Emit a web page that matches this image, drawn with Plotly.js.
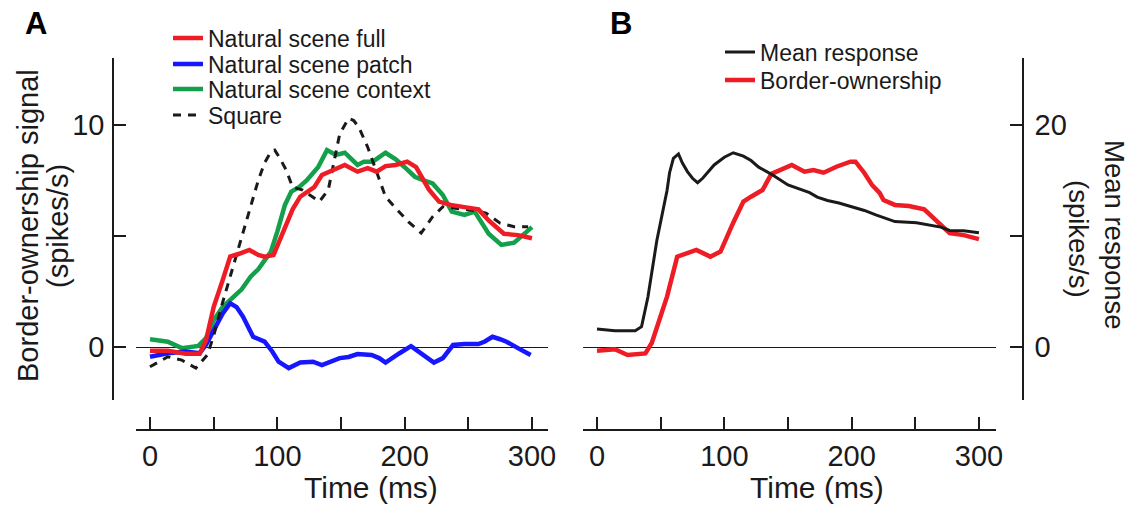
<!DOCTYPE html>
<html>
<head>
<meta charset="utf-8">
<script src="https://cdn.plot.ly/plotly-3.0.1.min.js"></script>
<style>
html,body{margin:0;padding:0;background:#fff;}
#chart{width:1136px;height:505px;}
</style>
</head>
<body>
<div id="chart"></div>
<script>
// ---------- Data ----------
// Panel A: border-ownership signal (spikes/s) vs time (ms)
const fullTime = [0, 14, 28, 39, 44, 50, 57, 63, 70, 78, 85, 90, 97, 107, 112, 118, 124, 129, 135, 143, 153, 163, 171, 178, 185, 193, 202, 209, 219, 227, 236, 247, 258, 266, 278, 289, 300];
const fullVals = [-0.17, -0.17, -0.3, -0.3, 0.3, 1.8, 3.0, 4.07, 4.2, 4.37, 4.15, 4.07, 4.14, 5.6, 6.2, 6.77, 7.0, 7.2, 7.75, 7.97, 8.2, 7.9, 8.06, 7.9, 8.15, 8.2, 8.35, 8.1, 7.1, 6.55, 6.4, 6.3, 6.2, 5.7, 5.1, 5.04, 4.9];

const patchTime = [0, 14, 28, 39, 44, 50, 57, 63, 68, 73, 81, 90, 96, 101, 109, 118, 128, 135, 142, 149, 156, 163, 174, 180, 185, 191, 196, 205, 213, 218, 223, 230, 238, 247, 258, 263, 269, 275, 280, 289, 299];
const patchVals = [-0.44, -0.28, -0.2, -0.28, 0.1, 0.77, 1.5, 1.97, 1.8, 1.37, 0.46, 0.24, -0.2, -0.66, -0.95, -0.7, -0.66, -0.81, -0.65, -0.5, -0.45, -0.32, -0.36, -0.5, -0.7, -0.5, -0.28, 0.04, -0.28, -0.5, -0.7, -0.5, 0.09, 0.13, 0.13, 0.25, 0.46, 0.35, 0.24, -0.05, -0.36];

const contextTime = [0, 14, 25, 38, 44, 50, 57, 65, 72, 79, 85, 90, 95, 100, 106, 111, 117, 123, 132, 139, 146, 153, 163, 168, 175, 185, 193, 200, 208, 215, 222, 230, 237, 247, 255, 266, 276, 286, 300];
const contextVals = [0.35, 0.24, -0.05, 0.05, 0.4, 1.2, 1.8, 2.2, 2.6, 3.17, 3.5, 3.9, 4.3, 5.2, 6.4, 7.0, 7.2, 7.5, 8.1, 8.87, 8.65, 8.75, 8.2, 8.35, 8.35, 8.75, 8.45, 8.1, 7.67, 7.5, 7.37, 6.85, 6.1, 5.95, 6.1, 5.1, 4.6, 4.7, 5.4];

const squareTime = [0, 14, 25, 36, 45, 50, 56, 65, 72, 79, 85, 90, 95, 98, 102, 107, 112, 120, 127, 133, 140, 145, 149, 153, 156, 160, 164, 171, 180, 185, 193, 203, 213, 222, 230, 241, 252, 264, 275, 286, 297];
const squareVals = [-0.89, -0.44, -0.59, -0.95, -0.36, 0.5, 1.8, 3.6, 5.0, 6.3, 7.5, 8.3, 8.8, 8.87, 8.5, 7.97, 7.2, 7.07, 6.8, 6.55, 7.07, 8.5, 9.6, 10.0, 10.3, 10.2, 9.9, 9.0, 7.5, 6.77, 6.25, 5.64, 5.13, 5.87, 6.32, 6.25, 6.17, 6.03, 5.58, 5.42, 5.42];

// Panel B
const meanTime = [0, 14, 30, 35, 40, 47, 55, 57, 60, 64, 67, 71, 75, 79, 83, 88, 92, 100, 107, 115, 121, 127, 138, 150, 160, 167, 173, 181, 190, 202, 210, 219, 234, 251, 260, 270, 277, 288, 300];
const meanVals = [1.62, 1.47, 1.47, 1.83, 4.5, 9.6, 14.1, 15.7, 17.0, 17.4, 16.6, 15.8, 15.2, 14.8, 15.2, 15.9, 16.4, 17.1, 17.5, 17.2, 16.8, 16.2, 15.5, 14.6, 14.2, 13.9, 13.5, 13.2, 12.97, 12.6, 12.3, 11.9, 11.3, 11.2, 11.0, 10.8, 10.5, 10.48, 10.3];

const bosTime = [0, 14, 24, 38, 43, 49, 55, 63, 70, 78, 89, 97, 107, 115, 121, 130, 137, 145, 153, 163, 170, 178, 188, 199, 203, 210, 216, 222, 225, 234, 245, 257, 268, 277, 288, 300];
const bosVals = [-0.17, -0.1, -0.36, -0.29, 0.18, 1.2, 2.27, 4.07, 4.2, 4.37, 4.07, 4.3, 5.6, 6.55, 6.77, 7.07, 7.8, 8.0, 8.2, 7.9, 7.97, 7.85, 8.12, 8.35, 8.35, 7.84, 7.3, 6.94, 6.62, 6.4, 6.35, 6.2, 5.58, 5.13, 5.04, 4.86];

// Tick labels
const xTickVals = [0, 50, 100, 150, 200, 250, 300];
const xTickText = ['0', '', '100', '', '200', '', '300'];
const yTickValsA = [0, 5, 10];
const yTickTextA = ['0', '', '10'];
const yTickValsB = [0, 10, 20];
const yTickTextB = ['0', '', '20'];

// ---------- Layout helpers ----------
const W = 1136, H = 505;
const fx = p => p / W;
const fy = p => 1 - p / H;
const FONT = 'Liberation Sans, Arial, Helvetica, sans-serif';
const INK = '#1a1a1a';
const RED = '#ee1c25', BLUE = '#1616ff', GREEN = '#14a04a';

const traces = [
  {x: contextTime, y: contextVals, name: 'Natural scene context', xaxis: 'x', yaxis: 'y', mode: 'lines',
   line: {color: GREEN, width: 4.5}, legend: 'legend3'},
  {x: patchTime, y: patchVals, name: 'Natural scene patch', xaxis: 'x', yaxis: 'y', mode: 'lines',
   line: {color: BLUE, width: 4.5}, legend: 'legend2'},
  {x: squareTime, y: squareVals, name: 'Square', xaxis: 'x', yaxis: 'y', mode: 'lines',
   line: {color: INK, width: 3, dash: '8px,7px'}, legend: 'legend4'},
  {x: fullTime, y: fullVals, name: 'Natural scene full', xaxis: 'x', yaxis: 'y', mode: 'lines',
   line: {color: RED, width: 4.5}, legend: 'legend'},
  {x: bosTime, y: bosVals, name: 'Border-ownership', xaxis: 'x2', yaxis: 'y2', mode: 'lines',
   line: {color: RED, width: 4.5}, legend: 'legend6'},
  {x: meanTime, y: meanVals, name: 'Mean response', xaxis: 'x2', yaxis: 'y3', mode: 'lines',
   line: {color: INK, width: 3}, legend: 'legend5'}
];

const xCommon = {
  anchor: 'free', position: fy(430),
  showline: true, linecolor: INK, linewidth: 1.5,
  ticks: 'inside', ticklen: 12, tickwidth: 1.5, tickcolor: INK,
  tickmode: 'array', tickvals: xTickVals, ticktext: xTickText,
  tickfont: {family: FONT, size: 29, color: INK},
  showgrid: false, zeroline: false, automargin: false, fixedrange: true
};
const yDomain = [fy(400), fy(58)];
const yRangeA = [-2.387, 13.018];

function legendAt(xp, yp) {
  return {x: fx(xp), y: fy(yp), xanchor: 'left', yanchor: 'middle',
          bgcolor: 'rgba(0,0,0,0)', borderwidth: 0,
          font: {family: FONT, size: 23, color: INK}};
}

const layout = {
  width: W, height: H,
  margin: {l: 0, r: 0, t: 0, b: 0},
  paper_bgcolor: '#fff', plot_bgcolor: 'rgba(0,0,0,0)',
  font: {family: FONT, color: INK},
  showlegend: true,
  xaxis: Object.assign({}, xCommon, {domain: [fx(136), fx(548)], range: [-11.0, 312.6]}),
  xaxis2: Object.assign({}, xCommon, {domain: [fx(583), fx(996)], range: [-11.0, 313.4]}),
  yaxis: {
    domain: yDomain, range: yRangeA, anchor: 'free', position: fx(113),
    showline: true, linecolor: INK, linewidth: 1.5,
    ticks: 'inside', ticklen: 12, tickwidth: 1.5, tickcolor: INK,
    tickmode: 'array', tickvals: yTickValsA, ticktext: yTickTextA,
    tickfont: {family: FONT, size: 29, color: INK}, ticklabelstandoff: 2,
    showgrid: false, zeroline: true, zerolinecolor: INK, zerolinewidth: 1.3,
    automargin: false, fixedrange: true
  },
  yaxis2: {
    domain: yDomain, range: yRangeA, anchor: 'x2',
    showline: false, showticklabels: false, ticks: '',
    showgrid: false, zeroline: true, zerolinecolor: INK, zerolinewidth: 1.3,
    automargin: false, fixedrange: true
  },
  yaxis3: {
    overlaying: 'y2', side: 'right', anchor: 'free', position: fx(1023),
    range: [-4.775, 26.036],
    showline: true, linecolor: INK, linewidth: 1.5,
    ticks: 'inside', ticklen: 12, tickwidth: 1.5, tickcolor: INK,
    tickmode: 'array', tickvals: yTickValsB, ticktext: yTickTextB,
    tickfont: {family: FONT, size: 29, color: INK}, ticklabelstandoff: 5,
    showgrid: false, zeroline: false, automargin: false, fixedrange: true
  },
  legend: legendAt(168, 38),
  legend2: legendAt(168, 64),
  legend3: legendAt(168, 89),
  legend4: legendAt(168, 115),
  legend5: legendAt(720, 52),
  legend6: legendAt(720, 80),
  annotations: [
    {text: '<b>A</b>', x: fx(36), y: fy(23), xref: 'paper', yref: 'paper', showarrow: false,
     xanchor: 'center', yanchor: 'middle', font: {family: FONT, size: 31, color: '#000'}},
    {text: '<b>B</b>', x: fx(621), y: fy(23), xref: 'paper', yref: 'paper', showarrow: false,
     xanchor: 'center', yanchor: 'middle', font: {family: FONT, size: 31, color: '#000'}},
    {text: 'Time (ms)', x: fx(371), y: fy(487), xref: 'paper', yref: 'paper', showarrow: false,
     xanchor: 'center', yanchor: 'middle', font: {family: FONT, size: 30, color: INK}},
    {text: 'Time (ms)', x: fx(817), y: fy(487), xref: 'paper', yref: 'paper', showarrow: false,
     xanchor: 'center', yanchor: 'middle', font: {family: FONT, size: 30, color: INK}},
    {text: 'Border-ownership signal', x: fx(28), y: fy(226), xref: 'paper', yref: 'paper', showarrow: false,
     textangle: -90, xanchor: 'center', yanchor: 'middle', font: {family: FONT, size: 29, color: INK}},
    {text: '(spikes/s)', x: fx(58), y: fy(226), xref: 'paper', yref: 'paper', showarrow: false,
     textangle: -90, xanchor: 'center', yanchor: 'middle', font: {family: FONT, size: 29, color: INK}},
    {text: 'Mean response', x: fx(1114), y: fy(235), xref: 'paper', yref: 'paper', showarrow: false,
     textangle: 90, xanchor: 'center', yanchor: 'middle', font: {family: FONT, size: 27.5, color: INK}},
    {text: '(spikes/s)', x: fx(1079), y: fy(239), xref: 'paper', yref: 'paper', showarrow: false,
     textangle: 90, xanchor: 'center', yanchor: 'middle', font: {family: FONT, size: 27.5, color: INK}}
  ]
};

Plotly.newPlot('chart', traces, layout, {displayModeBar: false, responsive: false});
</script>
</body>
</html>
